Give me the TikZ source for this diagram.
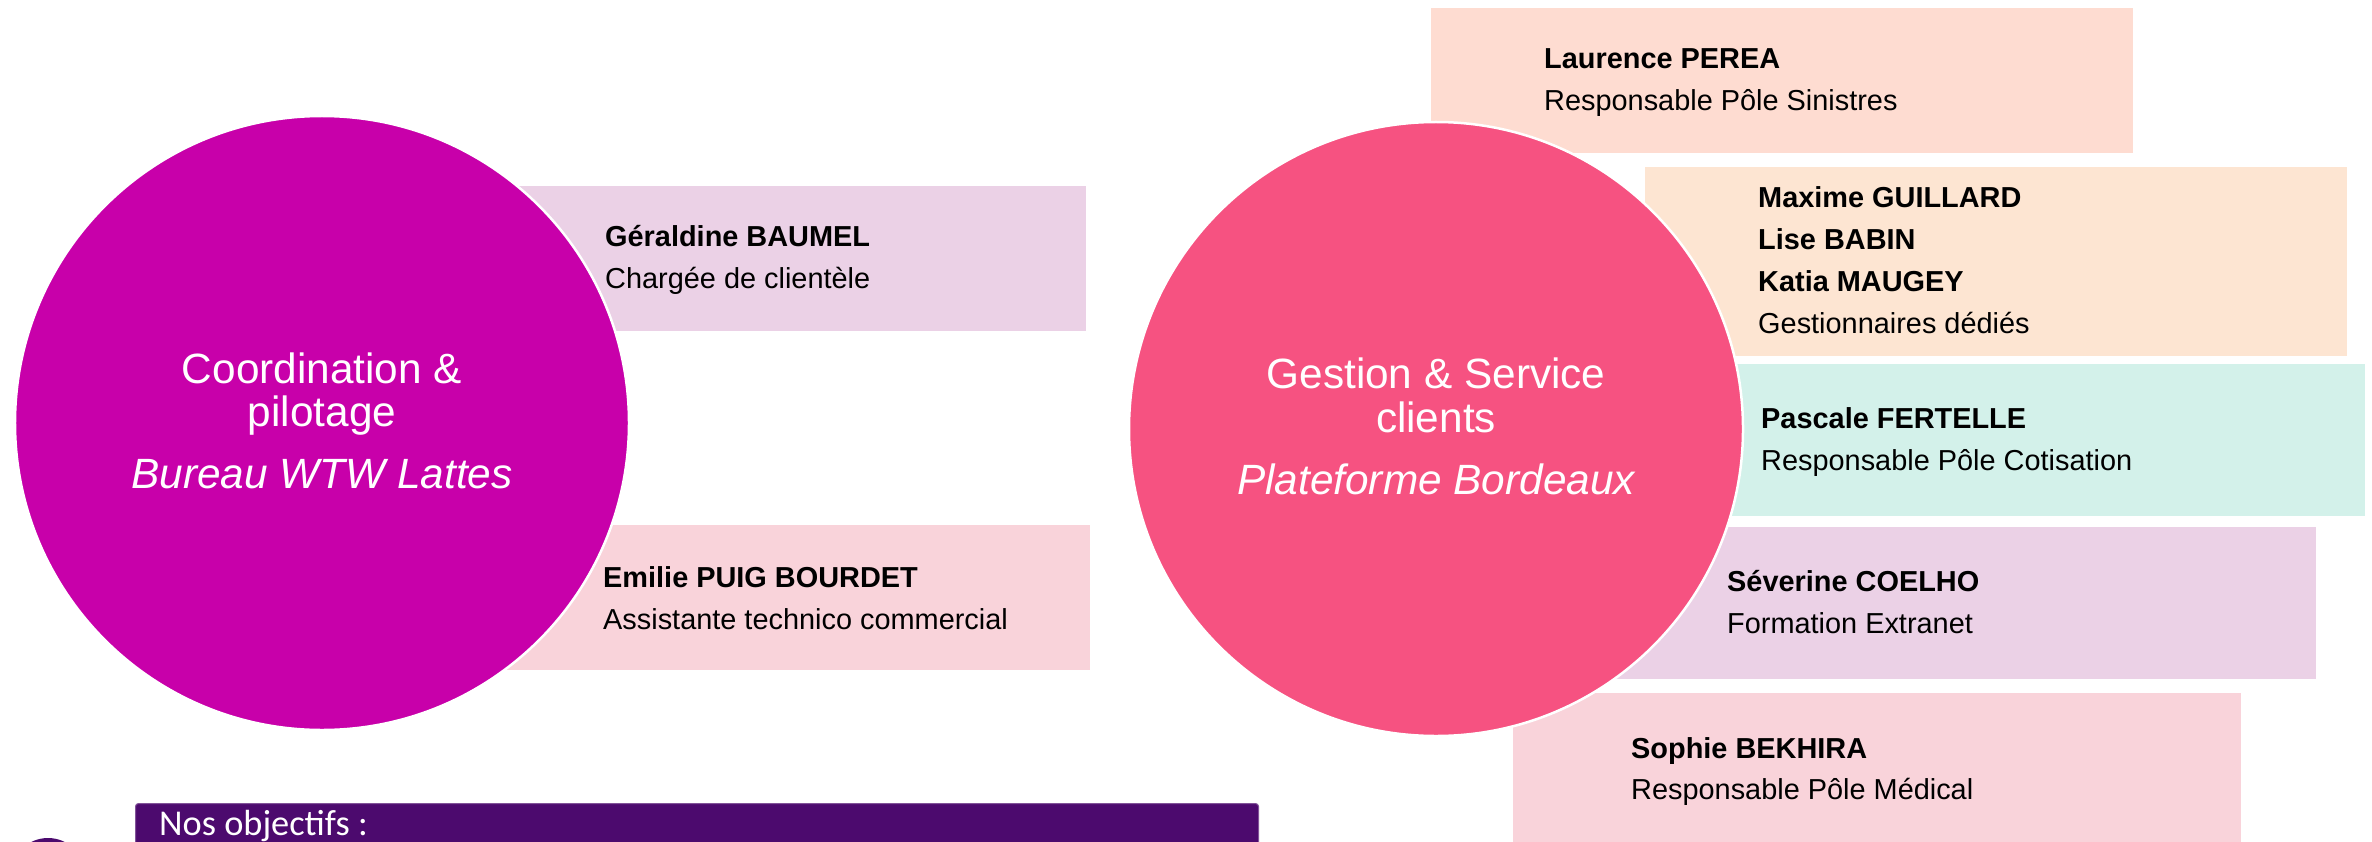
\documentclass[tikz,border=0pt]{standalone}
\usepackage{fontspec}
\setmainfont{Liberation Sans}
\newfontfamily\barfont{Carlito}
\definecolor{cMag}{HTML}{C800AA}
\definecolor{cPink}{HTML}{F65281}
\definecolor{bLilac}{HTML}{EBD1E6}
\definecolor{bRose}{HTML}{F9D3DA}
\definecolor{bPeach}{HTML}{FEDCD1}
\definecolor{bOrange}{HTML}{FDE5D2}
\definecolor{bMint}{HTML}{D3F1EA}
\definecolor{cBar}{HTML}{4C0A6E}
\tikzset{
  box/.style={rectangle, draw=none, inner sep=0pt, anchor=north west},
  bigcircle/.style={circle, inner sep=0pt, minimum size=614bp, draw=white, line width=2.5bp},
  nm/.style={anchor=base west, inner sep=0pt, font=\fontsize{29}{34}\selectfont\bfseries},
  rl/.style={anchor=base west, inner sep=0pt, font=\fontsize{29}{34}\selectfont},
  ct/.style={anchor=base, inner sep=0pt, text=white, font=\fontsize{42.5}{50}\selectfont},
  cti/.style={ct, font=\fontsize{42.5}{50}\selectfont\itshape},
}
\begin{document}
\begin{tikzpicture}[x=1bp,y=-1bp]
\clip (0,0) rectangle (2372,841);
\fill[white] (0,0) rectangle (2372,841);
% boxes
\node[box, fill=bLilac, minimum width=636bp, minimum height=145bp] (bgb) at (450,186) {};
\node[box, fill=bRose, minimum width=640bp, minimum height=145bp] (bep) at (450,525) {};
\node[box, fill=bPeach, minimum width=702bp, minimum height=145bp] (blp) at (1431,8) {};
\node[box, fill=bOrange, minimum width=702bp, minimum height=189bp] (bmg) at (1645,167) {};
\node[box, fill=bMint, minimum width=725bp, minimum height=152bp] (bpf) at (1640,364) {};
\node[box, fill=bLilac, minimum width=756bp, minimum height=152bp] (bsc) at (1560,527) {};
\node[box, fill=bRose, minimum width=728bp, minimum height=160bp] (bsb) at (1513,693) {};
% circles
\node[bigcircle, fill=cMag] (c1) at (322,423) {};
\node[bigcircle, fill=cPink] (c2) at (1436,429) {};
% circle texts
\node[ct] (c1a) at (322,383) {Coordination \&};
\node[ct] (c1b) at (322,426) {pilotage};
\node[cti] (c1c) at (322,488) {Bureau WTW Lattes};
\node[ct] (c2a) at (1436,388) {Gestion \& Service};
\node[ct] (c2b) at (1436,432) {clients};
\node[cti] (c2c) at (1436,494) {Plateforme Bordeaux};
% box texts
\node[nm] (t1a) at (605,246) {Géraldine BAUMEL};
\node[rl] (t1b) at (605,288) {Chargée de clientèle};
\node[nm] (t2a) at (603,587) {Emilie PUIG BOURDET};
\node[rl] (t2b) at (603,629) {Assistante technico commercial};
\node[nm] (t3a) at (1544,68) {Laurence PEREA};
\node[rl] (t3b) at (1544,110) {Responsable Pôle Sinistres};
\node[nm] (t4a) at (1758,207) {Maxime GUILLARD};
\node[nm] (t4b) at (1758,249) {Lise BABIN};
\node[nm] (t4c) at (1758,291) {Katia MAUGEY};
\node[rl] (t4d) at (1758,333) {Gestionnaires dédiés};
\node[nm] (t5a) at (1761,428) {Pascale FERTELLE};
\node[rl] (t5b) at (1761,470) {Responsable Pôle Cotisation};
\node[nm] (t6a) at (1727,591) {Séverine COELHO};
\node[rl] (t6b) at (1727,633) {Formation Extranet};
\node[nm] (t7a) at (1631,758) {Sophie BEKHIRA};
\node[rl] (t7b) at (1631,799) {Responsable Pôle Médical};
% objectives bar
\node[rectangle, rounded corners=3bp, fill=cBar, draw=cBar!70!white, line width=1bp, inner sep=0pt, anchor=north west, minimum width=1123bp, minimum height=70bp] (bar) at (135,803) {};
\node[anchor=base west, inner sep=0pt, text=white, font=\barfont\fontsize{36.5}{42}\selectfont] (bart) at (159,835) {Nos objectifs :};
\node[circle, fill=cBar, inner sep=0pt, minimum size=74bp] (dot) at (48,875) {};
\end{tikzpicture}
\end{document}
